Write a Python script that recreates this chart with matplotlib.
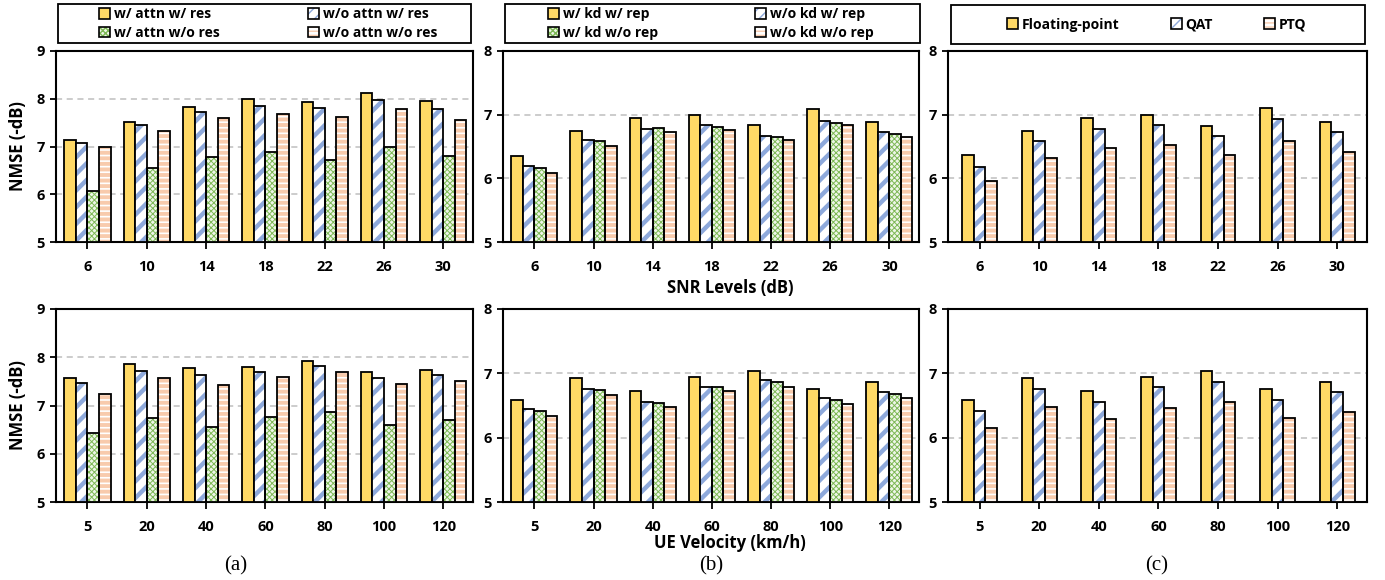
import numpy as np
import matplotlib
matplotlib.use("Agg")
import matplotlib.pyplot as plt
from matplotlib.patches import Rectangle, Patch
from matplotlib.legend_handler import HandlerTuple

plt.rcParams['font.family'] = ['Open Sans', 'DejaVu Sans']
plt.rcParams['font.weight'] = 'bold'

snr_levels = ['6', '10', '14', '18', '22', '26', '30']
velocities = ['5', '20', '40', '60', '80', '100', '120']

# (a) attention / residual ablation
a_labels = ['w/ attn w/ res', 'w/o attn w/ res', 'w/ attn w/o res', 'w/o attn w/o res']
a_snr_attn_res = [7.13, 7.52, 7.83, 7.99, 7.93, 8.12, 7.95]
a_snr_noattn_res = [7.08, 7.45, 7.72, 7.85, 7.81, 7.97, 7.79]
a_snr_attn_nores = [6.06, 6.54, 6.78, 6.88, 6.71, 6.99, 6.81]
a_snr_noattn_nores = [7.00, 7.32, 7.59, 7.69, 7.61, 7.79, 7.56]
a_vel_attn_res = [7.58, 7.87, 7.77, 7.80, 7.93, 7.70, 7.74]
a_vel_noattn_res = [7.46, 7.72, 7.63, 7.70, 7.82, 7.58, 7.63]
a_vel_attn_nores = [6.42, 6.74, 6.55, 6.77, 6.87, 6.59, 6.69]
a_vel_noattn_nores = [7.24, 7.57, 7.43, 7.59, 7.70, 7.44, 7.50]

# (b) knowledge distillation / reparameterization ablation
b_labels = ['w/ kd w/ rep', 'w/o kd w/ rep', 'w/ kd w/o rep', 'w/o kd w/o rep']
b_snr_kd_rep = [6.35, 6.75, 6.94, 6.99, 6.83, 7.09, 6.89]
b_snr_nokd_rep = [6.20, 6.60, 6.78, 6.83, 6.67, 6.90, 6.73]
b_snr_kd_norep = [6.17, 6.59, 6.79, 6.81, 6.65, 6.87, 6.70]
b_snr_nokd_norep = [6.08, 6.51, 6.72, 6.76, 6.60, 6.83, 6.65]
b_vel_kd_rep = [6.59, 6.93, 6.72, 6.95, 7.04, 6.76, 6.87]
b_vel_nokd_rep = [6.44, 6.75, 6.55, 6.79, 6.89, 6.61, 6.71]
b_vel_kd_norep = [6.42, 6.74, 6.54, 6.78, 6.86, 6.59, 6.68]
b_vel_nokd_norep = [6.33, 6.67, 6.48, 6.73, 6.79, 6.53, 6.62]

# (c) quantization
c_labels = ['Floating-point', 'QAT', 'PTQ']
c_snr_fp = [6.36, 6.75, 6.94, 7.00, 6.82, 7.10, 6.89]
c_snr_qat = [6.18, 6.58, 6.78, 6.84, 6.67, 6.93, 6.73]
c_snr_ptq = [5.96, 6.32, 6.48, 6.52, 6.37, 6.59, 6.41]
c_vel_fp = [6.58, 6.92, 6.72, 6.95, 7.03, 6.75, 6.86]
c_vel_qat = [6.41, 6.75, 6.55, 6.79, 6.87, 6.59, 6.71]
c_vel_ptq = [6.15, 6.47, 6.29, 6.46, 6.55, 6.30, 6.40]

YELLOW = '#FFD966'
BLUE = '#8EA9DB'
GREEN = '#7DB855'
ORANGE = '#F8CBAD'

STYLES = {
    'yellow': dict(face=YELLOW, hatch=None, hc=None, hlw=1.0, lh=None, llw=1.0),
    'blue': dict(face='white', hatch='//', hc=BLUE, hlw=3.2, lh='///', llw=2.2),
    'green': dict(face='#EEF6E8', hatch='xxxxxx', hc=GREEN, hlw=0.7, lh='xxxxxx', llw=0.7),
    'orange': dict(face='white', hatch='---', hc=ORANGE, hlw=2.8, lh='----', llw=1.8),
}

W, H = 1385, 580
fig = plt.figure(figsize=(W / 100, H / 100), dpi=100)

def fx(px):
    return px / W

def fy(py):
    return 1 - py / H

cols = [(56, 473), (503, 919), (948, 1367)]
rows = [(51, 242), (309, 502)]

BW = 0.195

def set_hlw(p, lw):
    try:
        p.set_hatch_linewidth(lw)
    except Exception:
        pass

def draw_bars(ax, series, styles):
    n = len(series)
    x = np.arange(7)
    offs = (np.arange(n) - (n - 1) / 2) * BW
    for vals, st, o in zip(series, styles, offs):
        s = STYLES[st]
        base = 5.0
        heights = np.array(vals) - base
        if s['hatch'] is None:
            ax.bar(x + o, heights, BW, bottom=base, color=s['face'],
                   edgecolor='black', linewidth=1.3, zorder=3)
        else:
            with plt.rc_context({'hatch.linewidth': s['hlw']}):
                bars = ax.bar(x + o, heights, BW, bottom=base, color=s['face'],
                              edgecolor=s['hc'], hatch=s['hatch'], linewidth=0, zorder=3)
            for b in bars:
                set_hlw(b, s['hlw'])
            ax.bar(x + o, heights, BW, bottom=base, fill=False,
                   edgecolor='black', linewidth=1.3, zorder=4)

def legend_handle(st):
    s = STYLES[st]
    if s['hatch'] is None:
        return Patch(facecolor=s['face'], edgecolor='black', linewidth=1.2)
    with plt.rc_context({'hatch.linewidth': s['llw']}):
        p = Patch(facecolor=s['face'], edgecolor=s['hc'], hatch=s['lh'], linewidth=0)
    set_hlw(p, s['llw'])
    outline = Patch(fill=False, edgecolor='black', linewidth=1.2)
    return (p, outline)

def setup_axes(ax, ymin, ymax, xt):
    ax.set_xlim(-0.53, 6.5)
    ax.set_ylim(ymin, ymax)
    ax.set_yticks(np.arange(ymin, ymax + 1))
    ax.set_xticks(np.arange(7))
    ax.set_xticklabels(xt)
    for sp in ax.spines.values():
        sp.set_linewidth(1.5)
        sp.set_color('black')
    ax.tick_params(axis='x', direction='out', length=5, width=1.3, pad=8, labelsize=10.5)
    ax.tick_params(axis='y', direction='out', length=4, width=1.3, pad=4, labelsize=10.5)
    for v in range(ymin + 1, ymax):
        ax.axhline(v, color='#BFBFBF', linestyle=(0, (4, 3)), linewidth=1.1, zorder=1)

panel_series = [
    ([a_snr_attn_res, a_snr_noattn_res, a_snr_attn_nores, a_snr_noattn_nores],
     [a_vel_attn_res, a_vel_noattn_res, a_vel_attn_nores, a_vel_noattn_nores],
     ['yellow', 'blue', 'green', 'orange'], a_labels, (5, 9)),
    ([b_snr_kd_rep, b_snr_nokd_rep, b_snr_kd_norep, b_snr_nokd_norep],
     [b_vel_kd_rep, b_vel_nokd_rep, b_vel_kd_norep, b_vel_nokd_norep],
     ['yellow', 'blue', 'green', 'orange'], b_labels, (5, 8)),
    ([c_snr_fp, c_snr_qat, c_snr_ptq],
     [c_vel_fp, c_vel_qat, c_vel_ptq],
     ['yellow', 'blue', 'orange'], c_labels, (5, 8)),
]

legend_boxes = [(58, 471, 4, 43), (505, 920, 4, 43), (951, 1365, 5, 44)]
legend_first_x = [99, 548, 1007]
legend_colsp = [6.4, 7.0, 3.7]

for ci, (snr_s, vel_s, styles, labels, (ymin, ymax)) in enumerate(panel_series):
    x0, x1 = cols[ci]
    for ri, (series, xt) in enumerate([(snr_s, snr_levels), (vel_s, velocities)]):
        y0, y1 = rows[ri]
        ax = fig.add_axes([fx(x0), fy(y1), fx(x1 - x0), (y1 - y0) / H])
        setup_axes(ax, ymin, ymax, xt)
        draw_bars(ax, series, styles)
        if ci == 0:
            ax.set_ylabel('NMSE (-dB)', fontsize=12, fontweight='bold', labelpad=7)
        if ci == 1:
            ax.set_xlabel('SNR Levels (dB)' if ri == 0 else 'UE Velocity (km/h)',
                          fontsize=12, fontweight='bold')
            top_px = 279 if ri == 0 else 534
            ax.xaxis.set_label_coords((730 - x0) / (x1 - x0), (y1 - top_px) / (y1 - y0))
    lx0, lx1, ly0, ly1 = legend_boxes[ci]
    fig.patches.append(Rectangle((fx(lx0), fy(ly1)), fx(lx1 - lx0), (ly1 - ly0) / H,
                                 transform=fig.transFigure, fill=False,
                                 edgecolor='black', linewidth=1.3))
    handles = [legend_handle(s) for s in styles]
    hmap = {tuple: HandlerTuple(ndivide=1, pad=0)}
    anchor = (fx(legend_first_x[ci]), fy((ly0 + ly1) / 2))
    if len(styles) == 4:
        order = [0, 2, 1, 3]
        hs = [handles[i] for i in order]
        ls = [labels[i] for i in order]
        leg = fig.legend(hs, ls, loc='center left', ncol=2, handler_map=hmap,
                         bbox_to_anchor=anchor, borderaxespad=0,
                         frameon=False, fontsize=10, handlelength=0.8, handleheight=0.8,
                         handletextpad=0.25, columnspacing=legend_colsp[ci],
                         labelspacing=0.35, borderpad=0)
    else:
        leg = fig.legend(handles, labels, loc='center left', ncol=3, handler_map=hmap,
                         bbox_to_anchor=anchor, borderaxespad=0,
                         frameon=False, fontsize=10, handlelength=0.8, handleheight=0.8,
                         handletextpad=0.25, columnspacing=legend_colsp[ci], borderpad=0)
    for t in leg.get_texts():
        t.set_fontweight('bold')

for lab, cx in zip(['(a)', '(b)', '(c)'], [236, 711, 1157]):
    fig.text(fx(cx), fy(566), lab, ha='center', va='center', fontsize=15,
             family='Liberation Serif', fontweight='normal')

fig.savefig('out.png', dpi=100)
